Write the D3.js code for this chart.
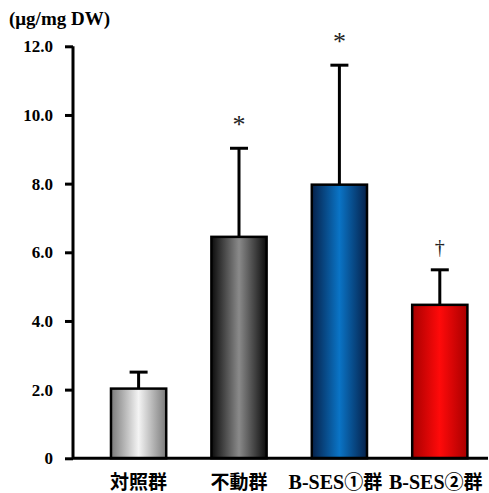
<!DOCTYPE html>
<html>
<head>
<meta charset="utf-8">
<script src="https://cdn.jsdelivr.net/npm/d3@7"></script>
<style>
  html, body { margin: 0; padding: 0; background: #fff; }
  svg { display: block; }
</style>
</head>
<body>
<svg id="chart" width="489" height="493"></svg>
<script>
// Group labels, means, SD and significance marks
const categories = ["対照群", "不動群", "B-SES①群", "B-SES②群"];
const means = [2.03, 6.45, 7.97, 4.47];
const sds = [0.48, 2.58, 3.48, 1.02];
const marks = ["", "*", "*", "†"];
const yTicks = [0, 2, 4, 6, 8, 10, 12];
const yTickLabels = ["0", "2.0", "4.0", "6.0", "8.0", "10.0", "12.0"];
const unitLabel = "(μg/mg DW)";

// Gradient colours for each bar: [edge, centre]
const barColors = [
  ["#7a7a7a", "#f4f4f4"],
  ["#0c0c0c", "#8a8a8a"],
  ["#06214a", "#0a74c6"],
  ["#a80000", "#ff0a0a"]
];

const svg = d3.select("#chart");
const serif = "'Liberation Serif', 'Times New Roman', serif";
const cjk = "'Noto Sans CJK JP', 'Noto Sans CJK SC', sans-serif";

const x = d3.scaleBand()
  .domain(categories)
  .range([88.4, 490])
  .paddingInner(0.45)
  .paddingOuter(0.225);

const y = d3.scaleLinear().domain([0, 12]).range([458.3, 46.3]);

// Horizontal gradients
const defs = svg.append("defs");
barColors.forEach((c, i) => {
  const g = defs.append("linearGradient")
    .attr("id", "grad" + i)
    .attr("x1", "0%").attr("x2", "100%").attr("y1", "0%").attr("y2", "0%");
  g.append("stop").attr("offset", "0%").attr("stop-color", c[0]);
  g.append("stop").attr("offset", "50%").attr("stop-color", c[1]);
  g.append("stop").attr("offset", "100%").attr("stop-color", c[0]);
});

// Bars
svg.append("g").selectAll("rect")
  .data(means)
  .join("rect")
  .attr("x", (d, i) => x(categories[i]))
  .attr("y", d => y(d))
  .attr("width", x.bandwidth())
  .attr("height", d => y(0) - y(d))
  .attr("fill", (d, i) => `url(#grad${i})`)
  .attr("stroke", "#000")
  .attr("stroke-width", 2.5);

// Error bars (upper only)
const err = svg.append("g").attr("stroke", "#000").attr("stroke-width", 3);
means.forEach((m, i) => {
  const cx = x(categories[i]) + x.bandwidth() / 2;
  err.append("line").attr("x1", cx).attr("x2", cx)
    .attr("y1", y(m)).attr("y2", y(m + sds[i]));
  err.append("line").attr("x1", cx - 9).attr("x2", cx + 9)
    .attr("y1", y(m + sds[i])).attr("y2", y(m + sds[i]));
});

// Significance marks
svg.append("g").selectAll("text")
  .data(marks)
  .join("text")
  .attr("x", (d, i) => x(categories[i]) + x.bandwidth() / 2)
  .attr("y", (d, i) => y(means[i] + sds[i]) - (d === "†" ? 16 : 15.5))
  .attr("text-anchor", "middle")
  .attr("font-family", serif)
  .attr("font-size", d => d === "†" ? 20 : 26)
  .attr("fill", "#222")
  .text(d => d);

// Y axis
const yAxis = d3.axisLeft(y)
  .tickValues(yTicks)
  .tickFormat((d, i) => yTickLabels[i])
  .tickSize(8)
  .tickPadding(12);
const ya = svg.append("g").attr("transform", "translate(73,0)").call(yAxis);
ya.select(".domain").attr("stroke-width", 3).attr("d", `M0,${y(12)}V${y(0)}`);
ya.selectAll(".tick line").attr("stroke-width", 3);
ya.selectAll(".tick text")
  .attr("font-family", serif)
  .attr("font-weight", "bold")
  .attr("font-size", 17)
  .attr("fill", "#000");

// X axis line
svg.append("line")
  .attr("x1", 72).attr("x2", 488)
  .attr("y1", y(0)).attr("y2", y(0))
  .attr("stroke", "#000").attr("stroke-width", 3);

// Category labels: Latin part in serif, CJK part in gothic
const labels = svg.append("g");
categories.forEach(c => {
  const m = c.match(/^([A-Za-z\-]*)(.*)$/);
  const t = labels.append("text")
    .attr("x", x(c) + x.bandwidth() / 2)
    .attr("dx", m[1] ? -4 : 0)
    .attr("y", 489)
    .attr("text-anchor", "middle")
    .attr("font-weight", "bold")
    .attr("font-size", 19)
    .attr("fill", "#000");
  if (m[1]) t.append("tspan").attr("font-family", serif).attr("font-size", 20).text(m[1]);
  t.append("tspan").attr("font-family", cjk).text(m[2]);
});

// Unit label
svg.append("text")
  .attr("x", 9).attr("y", 25)
  .attr("font-family", serif)
  .attr("font-weight", "bold")
  .attr("font-size", 19)
  .attr("fill", "#000")
  .text(unitLabel);
</script>
</body>
</html>
